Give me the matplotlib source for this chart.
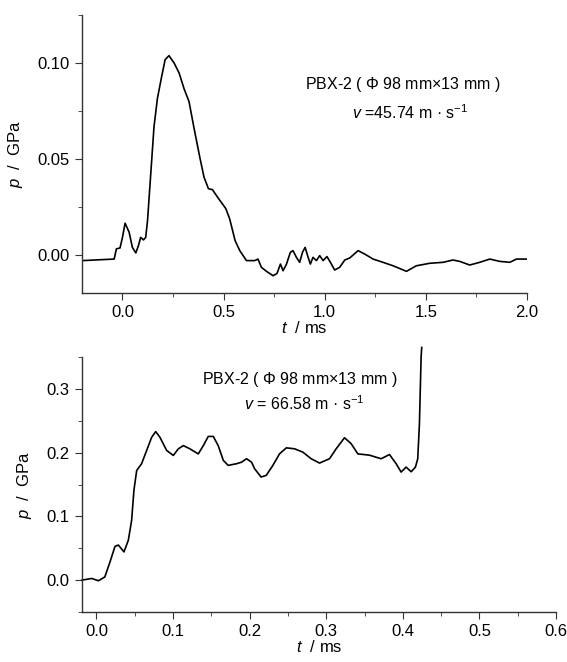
import matplotlib
matplotlib.use("Agg")
import matplotlib.pyplot as plt
from matplotlib.ticker import MultipleLocator, FormatStrFormatter

fam = "Liberation Sans"
plt.rcParams['font.family'] = [fam, 'DejaVu Sans']
plt.rcParams['mathtext.fontset'] = 'custom'
plt.rcParams['mathtext.rm'] = fam
plt.rcParams['mathtext.it'] = fam + ':italic'

# ---- data: top panel (v = 45.74 m/s) ----
t1 = [-0.198, -0.041, -0.030, -0.012, 0.0, 0.013, 0.033, 0.049, 0.066, 0.079, 0.090, 0.104,
      0.115, 0.124, 0.140, 0.156, 0.173, 0.194, 0.211, 0.230, 0.255, 0.280, 0.305, 0.329,
      0.354, 0.382, 0.403, 0.425, 0.445, 0.470, 0.511, 0.530, 0.557, 0.580, 0.613, 0.654,
      0.670, 0.687, 0.712, 0.745, 0.764, 0.781, 0.794, 0.811, 0.830, 0.843, 0.860, 0.876,
      0.890, 0.903, 0.918, 0.929, 0.942, 0.959, 0.975, 0.992, 1.011, 1.028, 1.049, 1.074,
      1.099, 1.124, 1.165, 1.198, 1.239, 1.288, 1.338, 1.404, 1.453, 1.519, 1.585, 1.634,
      1.667, 1.717, 1.766, 1.816, 1.865, 1.915, 1.948, 1.997]
p1 = [-0.0031, -0.0023, 0.003, 0.0035, 0.009, 0.0164, 0.0117, 0.0038, 0.0009, 0.0047, 0.009,
      0.0077, 0.009, 0.0178, 0.0423, 0.0668, 0.0816, 0.093, 0.1017, 0.1038, 0.100, 0.0948,
      0.0864, 0.0799, 0.0659, 0.051, 0.0405, 0.0344, 0.0339, 0.030, 0.024, 0.0187, 0.0073,
      0.0021, -0.0031, -0.0031, -0.0023, -0.0066, -0.0087, -0.011, -0.0098, -0.0049, -0.0084,
      -0.0049, 0.0012, 0.0021, -0.0014, -0.004, 0.0012, 0.0038, -0.0014, -0.0049, -0.0014,
      -0.0031, -0.0005, -0.0031, -0.001, -0.004, -0.008, -0.0066, -0.0028, -0.0017, 0.0021,
      0.0003, -0.0023, -0.004, -0.0058, -0.0087, -0.0058, -0.0045, -0.004, -0.0028, -0.0035,
      -0.0054, -0.004, -0.0023, -0.0035, -0.004, -0.0023, -0.0023]

# ---- data: bottom panel (v = 66.58 m/s) ----
t2 = [-0.019, -0.006, 0.0026, 0.011, 0.0178, 0.0243, 0.0287, 0.036, 0.0417, 0.046, 0.049,
      0.0526, 0.059, 0.0656, 0.0721, 0.0774, 0.083, 0.0917, 0.1004, 0.107, 0.1135, 0.122,
      0.133, 0.1396, 0.146, 0.1526, 0.159, 0.1657, 0.172, 0.183, 0.1895, 0.196, 0.2026,
      0.2065, 0.215, 0.2217, 0.2304, 0.239, 0.248, 0.2587, 0.2695, 0.2804, 0.2913, 0.3043,
      0.313, 0.3239, 0.3326, 0.3413, 0.3565, 0.3717, 0.3826, 0.3913, 0.3978, 0.4043, 0.4109,
      0.4165, 0.4195, 0.4217, 0.4239, 0.4247]
p2 = [0.0, 0.0026, -0.001, 0.005, 0.0287, 0.053, 0.055, 0.0443, 0.0626, 0.094, 0.141, 0.172,
      0.1826, 0.2034, 0.224, 0.233, 0.224, 0.2034, 0.1956, 0.206, 0.211, 0.206, 0.198, 0.211,
      0.2254, 0.2254, 0.211, 0.1878, 0.180, 0.1826, 0.185, 0.1904, 0.185, 0.1748, 0.1617,
      0.1643, 0.180, 0.198, 0.2075, 0.206, 0.2008, 0.1904, 0.1836, 0.1904, 0.206, 0.2233,
      0.214, 0.198, 0.196, 0.1904, 0.197, 0.1826, 0.1695, 0.1773, 0.170, 0.1773, 0.1904,
      0.245, 0.3495, 0.365]

label1 = ["PBX-2 ( $\\mathit{\u03a6}$ 98 mm\u00d713 mm )", "$\\mathit{v}$ =45.74 m \u00b7 s$^{-1}$"]
label2 = ["PBX-2 ( $\\mathit{\u03a6}$ 98 mm\u00d713 mm )", "$\\mathit{v}$ = 66.58 m \u00b7 s$^{-1}$"]

W, H = 567, 662
fig = plt.figure(figsize=(W / 100, H / 100), dpi=100)

def add_ax(l, r, t, b):
    return fig.add_axes([l / W, 1 - b / H, (r - l) / W, (b - t) / H])

ax1 = add_ax(82, 527, 15, 293)
ax2 = add_ax(82, 556, 357, 612)

for ax in (ax1, ax2):
    for s in ('top', 'right'):
        ax.spines[s].set_visible(False)
    for s in ('left', 'bottom'):
        ax.spines[s].set_color('#333333')
        ax.spines[s].set_linewidth(1.0)
    ax.tick_params(which='both', direction='out', labelsize=12, color='#333333')
    ax.tick_params(which='major', length=5, pad=4)
    ax.tick_params(which='minor', length=3)

ax1.plot(t1, p1, color='black', lw=1.2)
ax1.set_xlim(-0.2, 2.0)
ax1.set_ylim(-0.02, 0.125)
ax1.xaxis.set_major_locator(MultipleLocator(0.5))
ax1.xaxis.set_minor_locator(MultipleLocator(0.25))
ax1.yaxis.set_major_locator(MultipleLocator(0.05))
ax1.yaxis.set_minor_locator(MultipleLocator(0.025))
ax1.yaxis.set_major_formatter(FormatStrFormatter('%.2f'))
ax1.xaxis.set_major_formatter(FormatStrFormatter('%.1f'))
ax1.set_ylabel("$\\mathit{p}$  /  GPa", fontsize=12, labelpad=9)
ax1.set_xlabel("$\\mathit{t}$  / ms", fontsize=12, labelpad=0)
ax1.text((403 - 82) / 445, (293 - 85) / 278, label1[0], transform=ax1.transAxes,
         ha='center', va='center', fontsize=11.5)
ax1.text((410 - 82) / 445, (293 - 113) / 278, label1[1], transform=ax1.transAxes,
         ha='center', va='center', fontsize=11.5)

ax2.plot(t2, p2, color='black', lw=1.2, clip_on=False)
ax2.set_xlim(-0.0188, 0.6)
ax2.set_ylim(-0.05, 0.35)
ax2.xaxis.set_major_locator(MultipleLocator(0.1))
ax2.xaxis.set_minor_locator(MultipleLocator(0.05))
ax2.yaxis.set_major_locator(MultipleLocator(0.1))
ax2.yaxis.set_minor_locator(MultipleLocator(0.05))
ax2.yaxis.set_major_formatter(FormatStrFormatter('%.1f'))
ax2.xaxis.set_major_formatter(FormatStrFormatter('%.1f'))
ax2.set_ylabel("$\\mathit{p}$  /  GPa", fontsize=12, labelpad=9)
ax2.set_xlabel("$\\mathit{t}$  / ms", fontsize=12, labelpad=0)
ax2.text((300 - 82) / 474, (612 - 380) / 255, label2[0], transform=ax2.transAxes,
         ha='center', va='center', fontsize=11.5)
ax2.text((304 - 82) / 474, (612 - 404) / 255, label2[1], transform=ax2.transAxes,
         ha='center', va='center', fontsize=11.5)

fig.savefig("out.png", dpi=100)
